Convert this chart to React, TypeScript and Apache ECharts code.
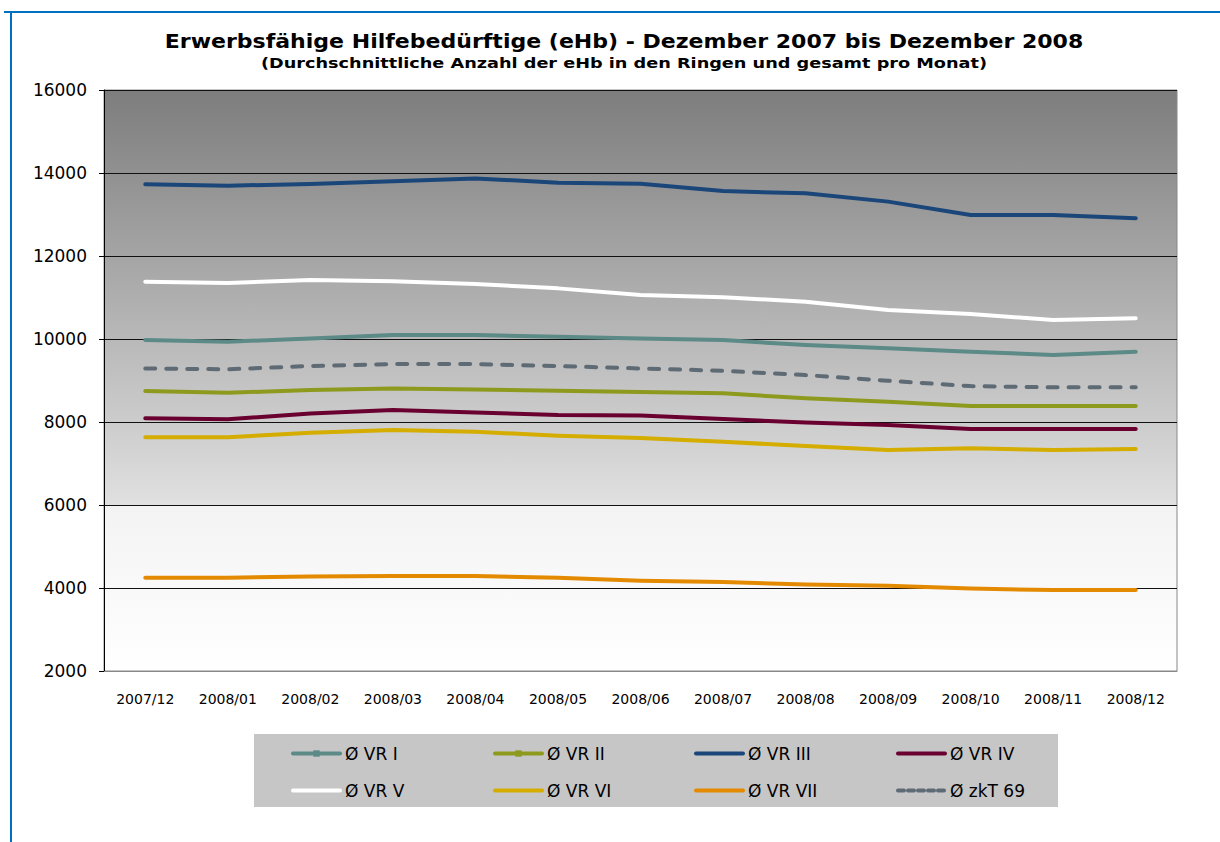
import React, { useEffect, useRef } from "react";
import * as echarts from "echarts";

const categories = ["2007/12", "2008/01", "2008/02", "2008/03", "2008/04", "2008/05", "2008/06", "2008/07", "2008/08", "2008/09", "2008/10", "2008/11", "2008/12"];
const vr1 = [9975, 9935, 10015, 10095, 10095, 10055, 10015, 9975, 9855, 9775, 9695, 9615, 9695];
const vr2 = [8745, 8705, 8770, 8810, 8785, 8755, 8720, 8690, 8570, 8490, 8385, 8385, 8385];
const vr3 = [13730, 13695, 13735, 13800, 13870, 13765, 13740, 13565, 13510, 13310, 12990, 12990, 12910];
const vr4 = [8090, 8065, 8205, 8290, 8230, 8170, 8155, 8070, 7985, 7930, 7830, 7830, 7830];
const vr5 = [11380, 11350, 11420, 11390, 11325, 11220, 11060, 11005, 10900, 10700, 10600, 10460, 10500];
const vr6 = [7635, 7635, 7740, 7805, 7765, 7670, 7615, 7525, 7420, 7325, 7365, 7325, 7350];
const vr7 = [4245, 4245, 4280, 4290, 4290, 4245, 4175, 4145, 4085, 4055, 3985, 3950, 3950];
const zkt = [9290, 9270, 9350, 9395, 9395, 9350, 9290, 9235, 9130, 8995, 8865, 8835, 8835];

const seriesNames = ["Ø VR I", "Ø VR II", "Ø VR III", "Ø VR IV", "Ø VR V", "Ø VR VI", "Ø VR VII", "Ø zkT 69"];
const seriesData = [vr1, vr2, vr3, vr4, vr5, vr6, vr7, zkt];
const seriesColors = ["#5b8a87", "#8e9a1e", "#1b4679", "#6a0030", "#ffffff", "#d4ad00", "#e48a00", "#5e6a74"];

const titleText = "Erwerbsfähige Hilfebedürftige (eHb) - Dezember 2007 bis Dezember 2008";
const subtitleText = "(Durchschnittliche Anzahl der eHb in den Ringen und gesamt pro Monat)";

const FONT = "DejaVu Sans";

export default function App() {
  const ref = useRef<HTMLDivElement>(null);
  useEffect(() => {
    if (!ref.current) return;
    const chart = echarts.init(ref.current, undefined, { renderer: "svg" });
    const series = seriesNames.map((name, i) => ({
      name,
      type: "line",
      data: seriesData[i],
      symbol: i < 2 ? "rect" : "none",
      symbolSize: [9, 6],
      showSymbol: false,
      itemStyle: { color: seriesColors[i], opacity: i < 2 ? 1 : 0 },
      lineStyle: {
        color: seriesColors[i],
        width: 4,
        type: i === 7 ? [10, 11] : "solid",
        cap: "round",
        join: "round",
      },
    }));
    const colLeft = [291, 493, 694, 896];
    const rowCenter = [752, 789];
    const legends = seriesNames.map((name, i) => ({
      left: colLeft[i % 4],
      top: rowCenter[Math.floor(i / 4)] - 7,
      padding: 0,
      itemWidth: 47,
      itemHeight: 8,
      itemGap: 0,
      selectedMode: false,
      lineStyle: { width: 4, type: i === 7 ? [6, 4] : "solid" },
      textStyle: { fontFamily: FONT, fontSize: 17, color: "#000" },
      data: [name],
    }));
    chart.setOption({
      animation: false,
      backgroundColor: "#ffffff",
      graphic: [
        { type: "line", shape: { x1: 4, y1: 12, x2: 1220, y2: 12 }, style: { stroke: "#0070c0", lineWidth: 2 } },
        { type: "line", shape: { x1: 11, y1: 12, x2: 11, y2: 842 }, style: { stroke: "#0070c0", lineWidth: 2 } },
        { type: "rect", shape: { x: 254, y: 734, width: 804, height: 73 }, style: { fill: "#c6c6c6" }, z: -1 },
        {
          type: "text",
          x: 624,
          y: 41,
          scaleX: 1.13,
          style: { text: titleText, font: `bold 19.5px "${FONT}"`, fill: "#000", textAlign: "center", textVerticalAlign: "middle" },
        },
        {
          type: "text",
          x: 624,
          y: 63,
          scaleX: 1.22,
          style: { text: subtitleText, font: `bold 14.5px "${FONT}"`, fill: "#000", textAlign: "center", textVerticalAlign: "middle" },
        },
      ],
      legend: legends,
      grid: {
        left: 104,
        right: 43,
        top: 90,
        bottom: 171,
        show: true,
        borderColor: "#888888",
        borderWidth: 1,
        backgroundColor: {
          type: "linear",
          x: 0,
          y: 0,
          x2: 0,
          y2: 1,
          colorStops: [
            { offset: 0, color: "#7d7d7d" },
            { offset: 0.714, color: "#e0e0e0" },
            { offset: 0.716, color: "#f3f3f3" },
            { offset: 1, color: "#ffffff" },
          ],
        },
      },
      xAxis: {
        type: "category",
        data: categories,
        boundaryGap: true,
        axisLine: { show: true, lineStyle: { color: "#888888", width: 1 } },
        axisTick: { show: false },
        axisLabel: { fontFamily: FONT, fontSize: 14, color: "#000", margin: 21, interval: 0 },
      },
      yAxis: {
        type: "value",
        min: 2000,
        max: 16000,
        interval: 2000,
        axisLine: { show: true, lineStyle: { color: "#000", width: 1 } },
        axisTick: { show: true, inside: false, length: 5, lineStyle: { color: "#000" } },
        axisLabel: { fontFamily: FONT, fontSize: 17, color: "#000", margin: 17, formatter: (v: number) => String(v) },
        splitLine: { show: true, lineStyle: { color: "#111", width: 1 } },
      },
      series,
    });
    return () => chart.dispose();
  }, []);
  return <div ref={ref} style={{ position: "fixed", left: 0, top: 0, width: 1220, height: 842 }} />;
}
